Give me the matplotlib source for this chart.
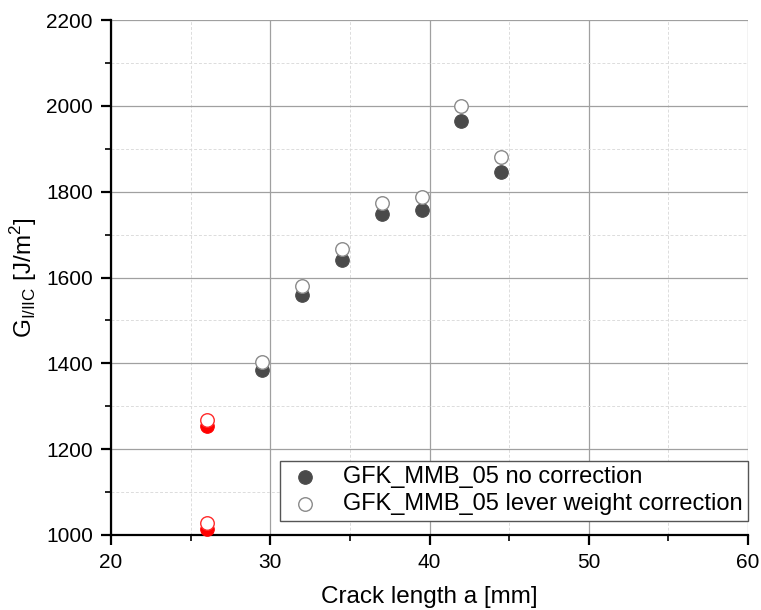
import matplotlib
matplotlib.use("Agg")
import matplotlib.pyplot as plt
from matplotlib.ticker import MultipleLocator

plt.rcParams['font.family'] = ['Liberation Sans', 'DejaVu Sans']
plt.rcParams['mathtext.fontset'] = 'custom'
plt.rcParams['mathtext.rm'] = 'Liberation Sans'

# Data
crack_len = [29.5, 32.0, 34.5, 37.0, 39.5, 42.0, 44.5]
g_no_corr = [1384, 1559, 1641, 1748, 1757, 1965, 1846]
g_lever_corr = [1403, 1581, 1666, 1773, 1787, 2000, 1881]

red_len = [26.0, 26.0]
red_no_corr = [1254, 1015]
red_lever_corr = [1269, 1029]

labels = ["GFK_MMB_05 no correction", "GFK_MMB_05 lever weight correction"]

fig = plt.figure(figsize=(7.61, 6.10), dpi=100)
ax = fig.add_axes([0.1459, 0.123, 0.8371, 0.844])

ax.scatter(crack_len, g_no_corr, s=95, color='#4a4a4a', edgecolors='#4a4a4a',
           linewidths=0.8, zorder=3, label=labels[0])
ax.scatter(crack_len, g_lever_corr, s=95, facecolors='white', edgecolors='#8a8a8a',
           linewidths=1.0, zorder=3, label=labels[1])
ax.scatter(red_len, red_no_corr, s=95, color='#ff0000', edgecolors='#ff0000',
           linewidths=0.8, zorder=3, clip_on=False)
ax.scatter(red_len, red_lever_corr, s=95, facecolors='white', edgecolors='#ff2a2a',
           linewidths=1.0, zorder=3, clip_on=False)

ax.set_xlim(20, 60)
ax.set_ylim(1000, 2200)
ax.xaxis.set_major_locator(MultipleLocator(10))
ax.xaxis.set_minor_locator(MultipleLocator(5))
ax.yaxis.set_major_locator(MultipleLocator(200))
ax.yaxis.set_minor_locator(MultipleLocator(100))

ax.grid(which='major', color='#a0a0a0', linestyle='-', linewidth=0.9, zorder=0)
ax.grid(which='minor', color='#dcdcdc', linestyle=(0, (3, 2)), linewidth=0.7, zorder=0)
ax.set_axisbelow(True)

for side in ['top', 'right']:
    ax.spines[side].set_visible(False)
for side in ['left', 'bottom']:
    ax.spines[side].set_linewidth(1.6)
    ax.spines[side].set_color('black')

ax.tick_params(which='major', direction='out', length=7, width=1.6, labelsize=15, pad=6)
ax.tick_params(which='minor', direction='out', length=4, width=1.2)

ax.set_xlabel('Crack length a [mm]', fontsize=17.5, labelpad=10)
ax.set_ylabel(r'G$_{\mathregular{I/IIC}}$ [J/m$^{\mathregular{2}}$]', fontsize=17.5, labelpad=5)

leg = ax.legend(loc='lower right', bbox_to_anchor=(1.0, 0.027), fontsize=17, frameon=True,
                fancybox=False, edgecolor='#555555', framealpha=1, borderpad=0.25,
                handletextpad=0.8, labelspacing=0.2, borderaxespad=0.0, handlelength=1.6)
leg.get_frame().set_linewidth(1.0)

fig.savefig('out.png', dpi=100)
